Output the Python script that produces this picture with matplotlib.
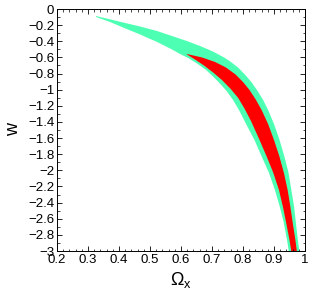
import numpy as np
import matplotlib.pyplot as plt
from matplotlib.ticker import MultipleLocator

plt.rcParams['font.family'] = ['Liberation Sans', 'DejaVu Sans']
plt.rcParams['mathtext.fontset'] = 'custom'
plt.rcParams['mathtext.rm'] = 'Liberation Sans'
plt.rcParams['mathtext.it'] = 'Liberation Sans'

# outer (aquamarine) contour: upper/right edge from the tip down, then lower/left edge back up
outer_x = [0.326, 0.371, 0.413, 0.468, 0.523, 0.571, 0.619, 0.661, 0.703, 0.739,
           0.761, 0.784, 0.806, 0.827, 0.845, 0.865, 0.881, 0.900, 0.918, 0.934,
           0.947, 0.956, 0.965, 0.971, 0.977, 0.982,
           0.948, 0.942, 0.931, 0.919, 0.903, 0.884, 0.861, 0.837, 0.810, 0.787,
           0.768, 0.747, 0.724, 0.705, 0.681, 0.652, 0.623, 0.597, 0.571, 0.523,
           0.468, 0.413, 0.371, 0.326]
outer_w = [-0.087, -0.128, -0.167, -0.217, -0.273, -0.335, -0.397, -0.458, -0.527, -0.601,
           -0.657, -0.725, -0.812, -0.905, -1.004, -1.128, -1.252, -1.426, -1.624, -1.835,
           -2.033, -2.244, -2.455, -2.665, -2.863, -3.012,
           -3.012, -2.863, -2.640, -2.455, -2.244, -2.033, -1.835, -1.624, -1.426, -1.252,
           -1.128, -1.016, -0.917, -0.843, -0.756, -0.676, -0.607, -0.558, -0.502, -0.409,
           -0.316, -0.229, -0.161, -0.099]

# inner (red) contour
inner_x = [0.619, 0.668, 0.710, 0.745, 0.776, 0.800, 0.821, 0.842, 0.860, 0.881,
           0.900, 0.918, 0.932, 0.944, 0.953, 0.961, 0.969, 0.974,
           0.956, 0.950, 0.940, 0.929, 0.916, 0.898, 0.877, 0.853, 0.826, 0.805,
           0.784, 0.760, 0.732, 0.703, 0.674, 0.645, 0.619]
inner_w = [-0.558, -0.601, -0.657, -0.725, -0.812, -0.905, -1.004, -1.128, -1.252, -1.426,
           -1.624, -1.835, -2.033, -2.244, -2.455, -2.665, -2.863, -3.012,
           -3.012, -2.863, -2.665, -2.455, -2.244, -2.033, -1.835, -1.620, -1.390, -1.235,
           -1.100, -0.990, -0.880, -0.785, -0.700, -0.625, -0.564]

fig = plt.figure(figsize=(3.32, 2.97), dpi=100)
ax = fig.add_axes([57/332, 46/297, 248/332, 242/297])

ax.fill(outer_x, outer_w, color='#4dffb3', lw=0)
ax.fill(inner_x, inner_w, color='#ff0000', lw=0)

ax.set_xlim(0.2, 1.0)
ax.set_ylim(-3, 0)
ax.xaxis.set_minor_locator(MultipleLocator(0.02))
ax.yaxis.set_minor_locator(MultipleLocator(0.1))
ax.set_xticks(np.arange(0.2, 1.01, 0.1))
ax.set_xticklabels(['0.2', '0.3', '0.4', '0.5', '0.6', '0.7', '0.8', '0.9', '1'])
yt = np.arange(-3, 0.01, 0.2)
ax.set_yticks(yt)
ax.set_yticklabels([('%g' % round(v, 1)).replace('-', '\u2212') if abs(v) > 1e-9 else '0'
                    for v in yt])

ax.tick_params(which='both', direction='in', top=True, right=True, labelsize=9.5, pad=2)
ax.tick_params(which='major', length=3.5, width=0.6)
ax.tick_params(which='minor', length=1.8, width=0.5)
for s in ax.spines.values():
    s.set_linewidth(0.7)

ax.set_xlabel(r'$\Omega_{\rm x}$', fontsize=13, labelpad=3)
ax.set_ylabel('w', fontsize=13, labelpad=4)

fig.savefig('out.png', dpi=100)
